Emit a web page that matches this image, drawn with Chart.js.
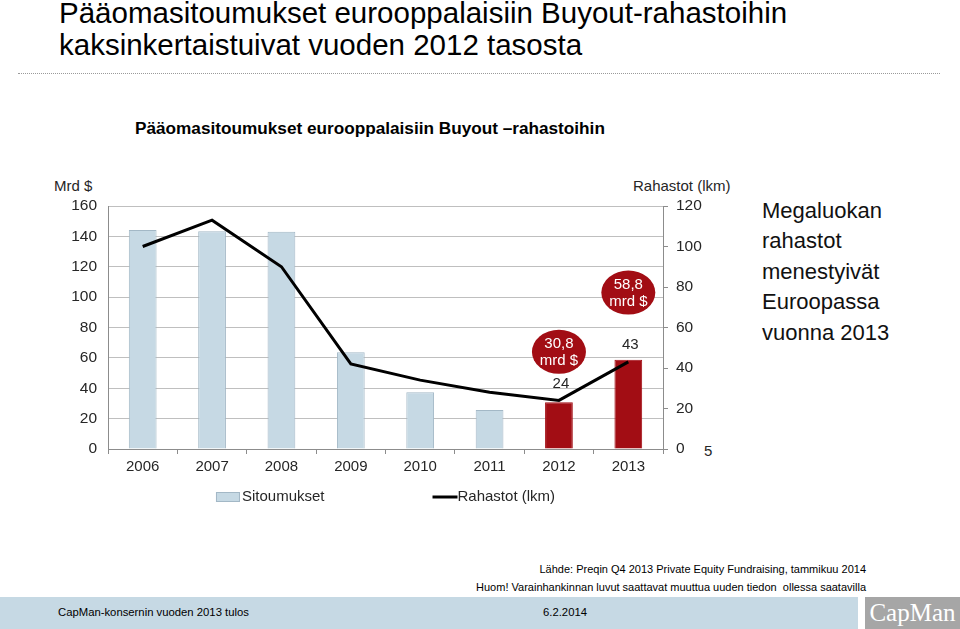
<!DOCTYPE html>
<html lang="fi">
<head>
<meta charset="utf-8">
<script src="https://cdn.jsdelivr.net/npm/chart.js@4.4.1/dist/chart.umd.min.js"></script>
<style>
  body { margin: 0; width: 960px; height: 629px; position: relative; overflow: hidden; background: #fff;
         font-family: "Liberation Sans", Arial, sans-serif; color: #000; }
  .abs { position: absolute; white-space: nowrap; }
  #otsikko { left: 59px; top: -3px; font-size: 29.5px; line-height: 32px; }
  #viiva { left: 18px; top: 73px; width: 922px; border-top: 1px dotted #9a9a9a; }
  #alaotsikko { left: 135px; top: 118px; font-size: 17.2px; font-weight: bold; }
  #mrd { left: 54px; top: 177px; font-size: 15px; color: #262626; }
  #lkm { left: 633px; top: 177px; font-size: 15px; color: #262626; }
  #viisi { left: 704px; top: 442px; font-size: 15px; color: #262626; }
  #kommentti { left: 762px; top: 196px; font-size: 22px; line-height: 30.4px; color: #111; }
  #lahde { right: 94px; top: 560px; font-size: 11px; line-height: 18px; text-align: right; }
  #kaista { left: 0; top: 597px; width: 858px; height: 32px; background: #c6d9e4; }
  #kaista span { position: absolute; top: 9px; font-size: 11.3px; }
  #logo { left: 865px; top: 597px; width: 95px; height: 32px; background: #a6a6a6; color: #fff;
          font-family: "Liberation Serif", serif; font-size: 25px; line-height: 32px; text-align: center; }
  #kaavio { position: absolute; left: 0; top: 170px; width: 740px; height: 340px; }
</style>
</head>
<body>
<div id="otsikko" class="abs">Pääomasitoumukset eurooppalaisiin Buyout-rahastoihin<br>kaksinkertaistuivat vuoden 2012 tasosta</div>
<div id="viiva" class="abs"></div>
<div id="alaotsikko" class="abs">Pääomasitoumukset eurooppalaisiin Buyout –rahastoihin</div>
<div id="mrd" class="abs">Mrd $</div>
<div id="lkm" class="abs">Rahastot (lkm)</div>
<div id="viisi" class="abs">5</div>
<div id="kommentti" class="abs">Megaluokan<br>rahastot<br>menestyivät<br>Euroopassa<br>vuonna 2013</div>
<div id="lahde" class="abs">Lähde: Preqin Q4 2013 Private Equity Fundraising, tammikuu 2014<br>Huom! Varainhankinnan luvut saattavat muuttua uuden tiedon&nbsp; ollessa saatavilla</div>
<div id="kaista" class="abs"><span style="left:58px">CapMan-konsernin vuoden 2013 tulos</span><span style="left:543px">6.2.2014</span></div>
<div id="logo" class="abs">CapMan</div>

<div id="kaavio"><canvas id="graafi"></canvas></div>

<script>
// Data luettu kuvasta
const vuodet = ['2006', '2007', '2008', '2009', '2010', '2011', '2012', '2013'];
const sitoumukset = [144.2, 143.3, 143.1, 63.7, 37.3, 25.7, 30.8, 58.8]; // mrd $
const rahastot = [100, 113, 90, 42, 34, 28, 24, 43];                   // lkm
const korostetutVuodet = ['2012', '2013'];
const pallot = [
  { vuosi: '2012', rivit: ['30,8', 'mrd $'], arvo: 64 },
  { vuosi: '2013', rivit: ['58,8', 'mrd $'], arvo: 103 }
];
const vasenMax = 160;
const oikeaMax = 120;
const askel = 20;

const SININEN = '#c6d9e4';
const PUNAINEN = '#a20d14';
const HARMAA = '#8c8c8c';
const TEKSTI = '#262626';
const FONTTI = '"Liberation Sans", Arial, sans-serif';

// Pallot ja pistemerkinnät
const merkinnat = {
  id: 'merkinnat',
  afterDatasetsDraw(chart) {
    const ctx = chart.ctx;
    const x = chart.scales.x;
    const y = chart.scales.y;
    ctx.save();
    ctx.textAlign = 'center';
    ctx.textBaseline = 'middle';

    pallot.forEach(p => {
      const cx = x.getPixelForValue(vuodet.indexOf(p.vuosi));
      const cy = y.getPixelForValue(p.arvo);
      ctx.beginPath();
      ctx.ellipse(cx, cy, 27, 22, 0, 0, Math.PI * 2);
      ctx.fillStyle = PUNAINEN;
      ctx.fill();
      ctx.fillStyle = '#fff';
      ctx.font = '15px ' + FONTTI;
      ctx.fillText(p.rivit[0], cx, cy - 8);
      ctx.fillText(p.rivit[1], cx, cy + 9);
    });

    const meta = chart.getDatasetMeta(1);
    ctx.fillStyle = TEKSTI;
    ctx.font = '15px ' + FONTTI;
    korostetutVuodet.forEach(v => {
      const i = vuodet.indexOf(v);
      const pt = meta.data[i];
      ctx.fillText(String(rahastot[i]), pt.x + 2, pt.y - 17);
    });
    ctx.restore();
  },
  // Selite alareunaan
  afterDraw(chart) {
    const ctx = chart.ctx;
    const ca = chart.chartArea;
    ctx.save();
    ctx.font = '15px ' + FONTTI;
    ctx.textBaseline = 'middle';
    ctx.textAlign = 'left';
    const t1 = chart.data.datasets[0].label;
    const t2 = chart.data.datasets[1].label;
    const w1 = ctx.measureText(t1).width;
    const w2 = ctx.measureText(t2).width;
    const vali = 108;
    const leveys = 24 + 2 + w1 + vali + 25 + w2;
    let px = (ca.left + ca.right) / 2 - leveys / 2;
    const py = ca.bottom + 48;

    ctx.fillStyle = SININEN;
    ctx.fillRect(px, py - 5, 24, 10);
    ctx.strokeStyle = '#a3b8c6';
    ctx.lineWidth = 1;
    ctx.strokeRect(px + 0.5, py - 4.5, 23, 9);
    ctx.fillStyle = TEKSTI;
    ctx.fillText(t1, px + 26, py);

    px += 26 + w1 + vali;
    ctx.strokeStyle = '#000';
    ctx.lineWidth = 3;
    ctx.beginPath();
    ctx.moveTo(px, py);
    ctx.lineTo(px + 25, py);
    ctx.stroke();
    ctx.fillText(t2, px + 25, py);
    ctx.restore();
  }
};

new Chart(document.getElementById('graafi'), {
  data: {
    labels: vuodet,
    datasets: [
      {
        type: 'bar',
        label: 'Sitoumukset',
        data: sitoumukset,
        backgroundColor: vuodet.map(v => korostetutVuodet.includes(v) ? PUNAINEN : SININEN),
        borderColor: vuodet.map(v => korostetutVuodet.includes(v) ? PUNAINEN : '#a3b8c6'),
        borderWidth: 1,
        barPercentage: 0.4,
        categoryPercentage: 1,
        yAxisID: 'y',
        order: 2
      },
      {
        type: 'line',
        label: 'Rahastot (lkm)',
        data: rahastot,
        borderColor: '#000',
        borderWidth: 3,
        pointRadius: 0,
        tension: 0,
        yAxisID: 'y2',
        order: 1
      }
    ]
  },
  options: {
    responsive: true,
    maintainAspectRatio: false,
    animation: false,
    layout: { padding: { top: 36, bottom: 21, left: 0, right: 0 } },
    plugins: {
      legend: { display: false },
      tooltip: { enabled: false }
    },
    scales: {
      x: {
        offset: true,
        grid: { drawOnChartArea: false, drawTicks: true, tickLength: 5, color: HARMAA, offset: true },
        border: { color: HARMAA },
        ticks: { padding: 4, color: TEKSTI, font: { size: 15, family: FONTTI } },
        afterFit: s => { s.height = 40; }
      },
      y: {
        position: 'left',
        min: 0,
        max: vasenMax,
        grid: { color: '#bfbfbf', drawTicks: false },
        border: { color: HARMAA },
        ticks: { stepSize: askel, padding: 11, color: TEKSTI, font: { size: 15.5, family: FONTTI } },
        afterFit: s => { s.width = 108; }
      },
      y2: {
        position: 'right',
        min: 0,
        max: oikeaMax,
        grid: { drawOnChartArea: false, drawTicks: true, tickLength: 5, color: HARMAA },
        border: { color: HARMAA },
        ticks: { stepSize: askel, padding: 8, color: TEKSTI, font: { size: 15.5, family: FONTTI } },
        afterFit: s => { s.width = 77; }
      }
    }
  },
  plugins: [merkinnat]
});
</script>
</body>
</html>
